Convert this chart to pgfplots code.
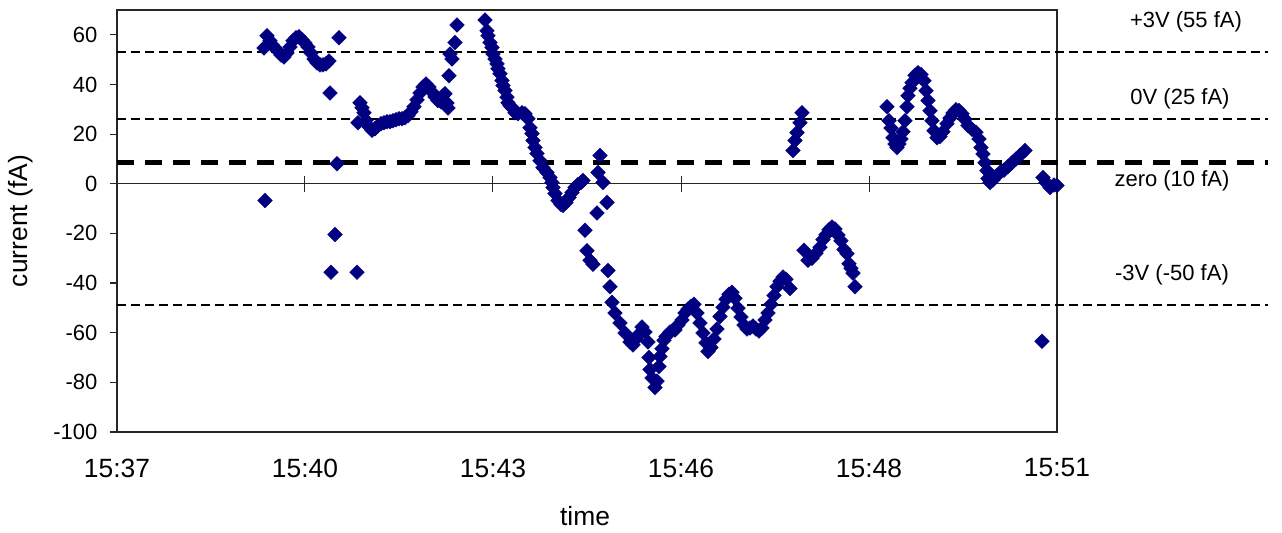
\documentclass[border=0pt]{standalone}
\usepackage{pgfplots}
\pgfplotsset{compat=1.18}
\usepackage{fontspec}
\setmainfont{Liberation Sans}
\definecolor{navy}{HTML}{000080}

\begin{document}
\begin{tikzpicture}[font=\fontsize{11}{13}\selectfont]
\path[use as bounding box] (-58.5pt,-50pt) rectangle (582.5pt,216pt);
\begin{axis}[
  at={(0,0)}, anchor=south west,
  scale only axis, width=470pt, height=211pt,
  xmin=0, xmax=14.4, ymin=-100, ymax=70,
  clip=false,
  axis line style={line width=0.6pt, black!85},
  xtick={0,2.88,5.76,8.64,11.52,14.4},
  xticklabels={15:37,15:40,15:43,15:46,15:48,15:51},
  major x tick style={draw=none},
  xticklabel style={yshift=-6.3pt, font=\fontsize{13.2}{15}\selectfont},
  ytick={-100,-80,-60,-40,-20,0,20,40,60},
  yticklabels={-100,-80,-60,-40,-20,0,20,40,60},
  ytick pos=left,
  tick align=outside,
  major tick length=3.5pt,
  major y tick style={line width=0.6pt, black!85},
  yticklabel style={xshift=-2.8pt},
]
% zero line of the time axis with its crossing ticks
\draw[line width=0.5pt, black!85] (axis cs:0,0) -- (axis cs:14.4,0);
\draw[line width=0.5pt, black!85] (axis cs:2.88,-3.2) -- (axis cs:2.88,3.2);
\draw[line width=0.5pt, black!85] (axis cs:5.76,-3.2) -- (axis cs:5.76,3.2);
\draw[line width=0.5pt, black!85] (axis cs:8.64,-3.2) -- (axis cs:8.64,3.2);
\draw[line width=0.5pt, black!85] (axis cs:11.52,-3.2) -- (axis cs:11.52,3.2);

% reference levels
\draw[line width=1pt, dash pattern=on 4.5pt off 2.5pt] (axis cs:0,53) -- (axis cs:17.63,53);
\draw[line width=1pt, dash pattern=on 4.5pt off 2.5pt] (axis cs:0,26) -- (axis cs:17.63,26);
\draw[line width=2.3pt, dash pattern=on 8.3pt off 5.7pt] (axis cs:0,8.5) -- (axis cs:17.63,8.5);
\draw[line width=1pt, dash pattern=on 4.5pt off 2.5pt] (axis cs:0,-49) -- (axis cs:17.63,-49);

\addplot[only marks, mark=square*, mark size=2.6pt,
  mark options={fill=navy, draw=navy, line width=0.2pt, rotate=45}]
table[x=t, y=I] {
t I
2.2519 54.7
2.2672 -6.7
2.2979 59.6
2.3438 57.6
2.3745 56.0
2.4204 54.7
2.4664 53.5
2.5123 51.9
2.5583 51.1
2.6042 52.7
2.6502 55.1
2.6962 57.6
2.7421 58.8
2.7881 59.2
2.8340 58.0
2.8800 56.7
2.9259 55.1
2.9719 52.7
3.0179 50.3
3.0638 48.7
3.1098 47.9
3.1557 47.9
3.2017 48.3
3.2476 49.5
3.2630 36.6
3.2783 -35.6
3.3396 -20.4
3.3702 8.1
3.4008 58.8
3.6766 -35.6
3.6919 24.6
3.7225 32.6
3.7532 30.6
3.7838 28.6
3.8145 25.6
3.8604 23.0
3.9064 21.6
3.9523 22.2
3.9983 23.4
4.0442 24.2
4.0902 24.6
4.1362 25.0
4.1821 25.0
4.2281 25.4
4.2740 25.8
4.3200 26.2
4.3659 26.2
4.4119 26.6
4.4579 27.4
4.5038 29.0
4.5498 31.0
4.5957 33.8
4.6417 36.6
4.6876 39.0
4.7336 40.2
4.7796 39.0
4.8255 37.0
4.8715 35.0
4.9174 33.5
4.9634 33.0
4.9940 35.5
5.0247 36.3
5.0553 32.5
5.0706 30.5
5.0860 43.5
5.1013 52.3
5.1319 50.3
5.1779 56.9
5.2085 64.0
5.6374 66.0
5.6681 61.6
5.6834 59.6
5.7140 56.9
5.7447 54.9
5.7600 52.3
5.7906 50.3
5.8213 48.3
5.8366 46.3
5.8672 44.3
5.8979 41.6
5.9132 39.6
5.9438 37.6
5.9745 34.9
5.9898 32.6
6.0204 31.4
6.0510 30.6
6.0970 28.6
6.1430 28.2
6.2042 28.6
6.2502 28.2
6.2962 26.2
6.3268 22.6
6.3574 20.2
6.3728 17.4
6.4034 14.6
6.4340 12.2
6.4800 9.3
6.5259 6.5
6.5872 4.5
6.6332 2.5
6.6638 0.5
6.6791 -1.5
6.7098 -3.9
6.7557 -6.7
6.8017 -8.3
6.8323 -8.7
6.8783 -7.5
6.9242 -5.5
6.9702 -3.5
7.0161 -1.5
7.0621 -0.3
7.1081 0.5
7.1387 1.3
7.1694 -18.7
7.2000 -27.0
7.2459 -30.8
7.2919 -32.4
7.3532 -11.8
7.3685 4.5
7.3991 11.4
7.4451 0.5
7.5064 -7.5
7.5217 -34.9
7.5523 -41.5
7.5830 -47.7
7.6289 -52.1
7.7055 -56.1
7.7821 -60.1
7.8587 -63.7
7.9047 -64.9
7.9506 -62.5
7.9813 -60.9
8.0425 -57.7
8.0885 -59.7
8.1344 -63.7
8.1498 -70.0
8.1651 -74.8
8.1957 -78.2
8.2417 -82.1
8.2723 -79.5
8.3030 -73.6
8.3183 -69.6
8.3489 -66.5
8.3796 -63.0
8.4102 -61.5
8.4715 -59.7
8.5481 -58.9
8.5940 -56.9
8.6553 -54.9
8.7012 -52.1
8.7472 -50.5
8.7932 -49.3
8.8391 -48.5
8.8851 -52.1
8.9310 -56.1
8.9770 -60.1
9.0229 -64.1
9.0536 -67.6
9.0995 -66.0
9.1455 -62.5
9.1915 -58.5
9.2374 -53.5
9.2834 -49.7
9.3293 -46.5
9.3753 -44.5
9.4212 -43.7
9.4672 -46.1
9.5132 -50.1
9.5591 -53.7
9.6051 -56.9
9.6510 -58.5
9.6970 -58.1
9.7429 -57.3
9.7889 -58.5
9.8349 -59.3
9.8808 -58.1
9.9268 -54.9
9.9727 -52.1
10.0187 -48.5
10.0646 -45.0
10.1106 -41.5
10.1566 -39.3
10.2025 -37.6
10.2485 -38.5
10.3098 -42.2
10.3557 13.4
10.3864 17.4
10.4170 20.6
10.4630 24.6
10.4936 28.6
10.5243 -26.8
10.5855 -30.8
10.6468 -30.0
10.7081 -28.0
10.7693 -25.6
10.8153 -22.5
10.8613 -20.5
10.9072 -18.5
10.9532 -17.4
10.9991 -18.2
11.0451 -20.6
11.0910 -23.0
11.1370 -26.5
11.1829 -28.2
11.2136 -32.2
11.2443 -34.0
11.2749 -36.0
11.3055 -41.5
11.7957 31.0
11.8263 25.4
11.8570 22.5
11.8876 18.5
11.9183 16.0
11.9489 14.6
11.9795 16.0
12.0102 18.0
12.0408 21.0
12.0715 25.4
12.1021 31.0
12.1174 35.5
12.1480 38.5
12.1787 40.7
12.2246 43.7
12.2706 44.7
12.3166 44.0
12.3625 41.5
12.3931 37.5
12.4238 33.5
12.4544 29.4
12.4851 25.4
12.5157 21.4
12.5617 18.5
12.6076 19.0
12.6536 21.0
12.7149 24.2
12.7608 26.5
12.8068 28.5
12.8527 29.8
12.8987 29.5
12.9446 28.2
12.9906 26.0
13.0366 23.5
13.0978 22.0
13.1591 20.8
13.2050 18.0
13.2357 14.6
13.2663 12.0
13.2970 8.5
13.3276 5.3
13.3429 2.1
13.3736 0.5
13.4195 1.5
13.4655 3.0
13.5268 4.5
13.5880 5.5
13.6493 7.0
13.7106 8.5
13.7719 10.0
13.8332 11.5
13.9098 13.4
14.1702 -63.4
14.1855 2.5
14.2314 0.5
14.2927 -1.5
14.3540 -0.5
14.4000 -0.7
};
\end{axis}

% axis titles
\node[rotate=90, font=\fontsize{13.2}{15}\selectfont] at (-48pt,105.5pt) {current (fA)};
\node[font=\fontsize{13.2}{15}\selectfont] at (234pt,-42pt) {time};

% names of the reference levels
\node at (534.5pt,205pt) {+3V (55 fA)};
\node at (531.5pt,166.5pt) {0V (25 fA)};
\node at (527.5pt,125.5pt) {zero (10 fA)};
\node at (527.5pt,78.5pt) {-3V (-50 fA)};
\end{tikzpicture}
\end{document}
